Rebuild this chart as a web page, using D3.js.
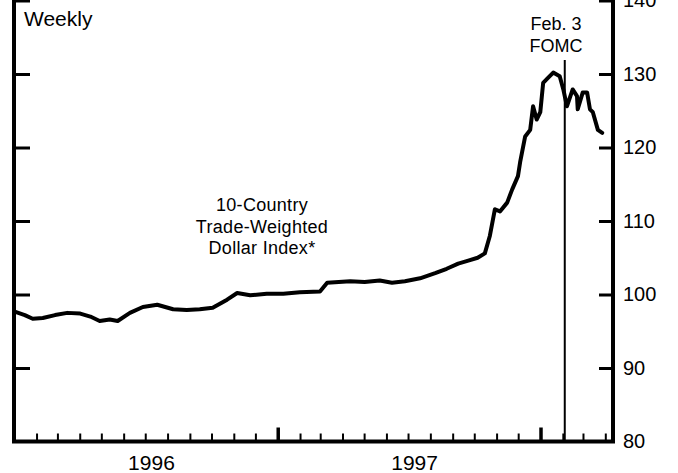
<!DOCTYPE html>
<html>
<head>
<meta charset="utf-8">
<script src="https://cdn.jsdelivr.net/npm/d3@7"></script>
<style>
  body { margin: 0; background: #fff; }
  svg { display: block; font-family: "Liberation Sans", Arial, Helvetica, sans-serif; }
  .axis path { display: none; }
  .axis line { stroke: #000; }
</style>
</head>
<body>
<div id="chart-area"></div>
<script>
// weekly readings of the index
const dates = [
  "1995-12-31", "1996-01-15", "1996-01-26", "1996-02-09", "1996-02-26", "1996-03-14",
  "1996-04-01", "1996-04-15", "1996-04-28", "1996-05-12", "1996-05-23", "1996-06-09",
  "1996-06-27", "1996-07-17", "1996-08-08", "1996-08-27", "1996-09-14", "1996-10-02",
  "1996-10-22", "1996-11-05", "1996-11-23", "1996-12-16", "1997-01-08", "1997-01-31",
  "1997-02-28", "1997-03-10", "1997-04-11", "1997-05-01", "1997-05-22", "1997-06-08",
  "1997-06-26", "1997-07-17", "1997-08-07", "1997-08-23", "1997-09-08", "1997-09-22",
  "1997-10-05", "1997-10-15", "1997-10-22", "1997-10-29", "1997-11-05", "1997-11-15",
  "1997-11-22", "1997-11-30", "1997-12-03", "1997-12-10", "1997-12-17", "1997-12-21",
  "1997-12-26", "1997-12-31", "1998-01-04", "1998-01-09", "1998-01-18", "1998-01-27",
  "1998-02-01", "1998-02-06", "1998-02-14", "1998-02-20", "1998-02-21", "1998-02-28",
  "1998-03-06", "1998-03-10", "1998-03-14", "1998-03-21", "1998-03-27"
];
const dollarIndex = [
  97.7, 97.2, 96.7, 96.8, 97.2, 97.5,
  97.4, 97.0, 96.4, 96.6, 96.4, 97.5,
  98.3, 98.6, 98.0, 97.9, 98.0, 98.2,
  99.3, 100.2, 99.9, 100.1, 100.1, 100.3,
  100.4, 101.6, 101.8, 101.7, 101.9, 101.6,
  101.8, 102.2, 102.9, 103.5, 104.2, 104.6,
  105.0, 105.6, 108.0, 111.6, 111.3, 112.5,
  114.3, 116.1, 118.0, 121.5, 122.4, 125.6,
  123.8, 124.8, 128.8, 129.3, 130.2, 129.7,
  127.9, 125.6, 127.9, 127.0, 125.2, 127.5,
  127.5, 125.2, 124.8, 122.4, 122.0
];
const yTicks = [80, 90, 100, 110, 120, 130, 140];
const yearTicks = ["1997-01-01", "1998-01-01"];
const yearLabels = ["1996", "1997"];
const fomcDate = "1998-02-03";
const noteLines = ["10-Country", "Trade-Weighted", "Dollar Index*"];

const chartSize = { width: 678, height: 473 };
const frame = { left: 14, right: 613, top: 0.5, bottom: 441.5 };
const parse = d3.timeParse("%Y-%m-%d");

const quotes = dates.map((d, i) => ({ Time: parse(d), Value: dollarIndex[i] }));

const x = d3.scaleTime()
  .domain([parse("1995-12-31"), parse("1998-04-11")])
  .range([frame.left, frame.right]);
const y = d3.scaleLinear()
  .domain([80, 140])
  .range([frame.bottom, frame.top]);

const svg = d3.select("#chart-area").append("svg")
  .attr("width", chartSize.width)
  .attr("height", chartSize.height);

svg.append("rect").attr("width", chartSize.width).attr("height", chartSize.height).attr("fill", "#fff");

// frame: left, bottom, right
svg.append("path")
  .attr("d", `M${frame.left},-2 V${frame.bottom} H${frame.right} V-2`)
  .attr("fill", "none")
  .attr("stroke", "#000")
  .attr("stroke-width", 4);

// monthly minor ticks along the bottom, pointing up
const months = x.ticks(d3.timeMonth.every(1));
svg.append("g").selectAll("line")
  .data(months)
  .join("line")
  .attr("x1", d => x(d)).attr("x2", d => x(d))
  .attr("y1", frame.bottom).attr("y2", frame.bottom - 8)
  .attr("stroke", "#000")
  .attr("stroke-width", 2);

// taller year ticks
svg.append("g").selectAll("line")
  .data(yearTicks.map(parse))
  .join("line")
  .attr("x1", d => x(d)).attr("x2", d => x(d))
  .attr("y1", frame.bottom).attr("y2", frame.bottom - 14)
  .attr("stroke", "#000")
  .attr("stroke-width", 3.5);

// year labels centred under each year
svg.selectAll(".year-label")
  .data(yearLabels)
  .join("text")
  .attr("class", "year-label")
  .attr("x", d => (x(parse(d + "-01-01")) + x(parse((+d + 1) + "-01-01"))) / 2 + 5)
  .attr("y", 470)
  .attr("text-anchor", "middle")
  .attr("font-size", 21)
  .text(d => d);

// left ticks (no labels)
svg.append("g").attr("class", "axis")
  .attr("transform", `translate(${frame.left}, 0)`)
  .call(d3.axisLeft(y).tickValues(yTicks.slice(1)).tickSize(-16).tickFormat(""))
  .selectAll("line").attr("stroke-width", 3);

// right axis with labels
const rightAxis = svg.append("g").attr("class", "axis")
  .attr("transform", `translate(${frame.right}, 0)`)
  .call(d3.axisRight(y).tickValues(yTicks).tickSize(-14).tickPadding(10).tickFormat(d3.format("d")));
rightAxis.selectAll("line").attr("stroke-width", 3);
rightAxis.selectAll("text")
  .attr("font-size", 20)
  .attr("font-family", "'Liberation Sans', Arial, sans-serif")
  .attr("fill", "#000");
rightAxis.selectAll(".tick").filter(d => d === 80).select("line").remove();

// FOMC marker line
svg.append("line")
  .attr("x1", x(parse(fomcDate))).attr("x2", x(parse(fomcDate)))
  .attr("y1", 60).attr("y2", frame.bottom)
  .attr("stroke", "#000")
  .attr("stroke-width", 2);

svg.append("text").attr("x", 556).attr("y", 30).attr("text-anchor", "middle")
  .attr("font-size", 18).text("Feb. 3");
svg.append("text").attr("x", 556).attr("y", 52).attr("text-anchor", "middle")
  .attr("font-size", 18).text("FOMC");

// index line
const indexLine = d3.line().x(q => x(q.Time)).y(q => y(q.Value));
svg.append("path")
  .attr("d", indexLine(quotes))
  .attr("fill", "none")
  .attr("stroke", "#000")
  .attr("stroke-width", 4)
  .attr("stroke-linejoin", "round")
  .attr("stroke-linecap", "round");

svg.append("text").attr("x", 24).attr("y", 26)
  .attr("font-size", 21).text("Weekly");

svg.selectAll(".note")
  .data(noteLines)
  .join("text")
  .attr("class", "note")
  .attr("x", 262)
  .attr("y", (d, i) => 211 + i * 21.5)
  .attr("text-anchor", "middle")
  .attr("font-size", 18)
  .attr("letter-spacing", 0.3)
  .text(d => d);
</script>
</body>
</html>
